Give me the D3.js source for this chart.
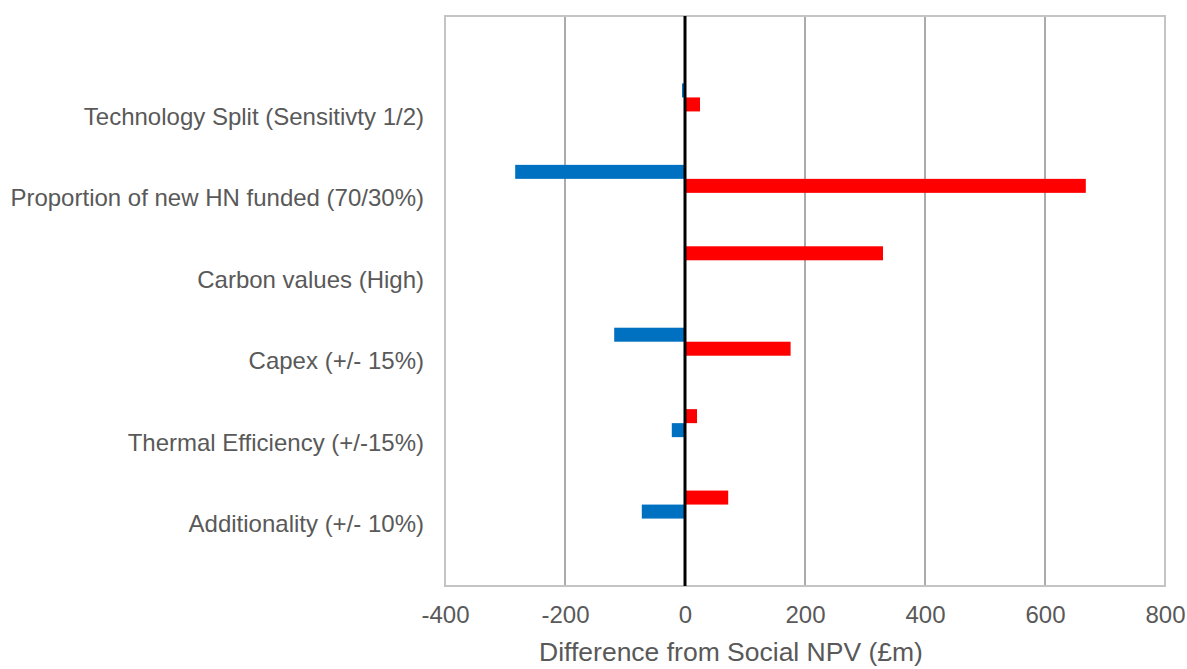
<!DOCTYPE html>
<html>
<head>
<meta charset="utf-8">
<script src="https://cdn.jsdelivr.net/npm/d3@7"></script>
<style>
  html, body { margin: 0; padding: 0; background: #fff; }
  svg { display: block; font-family: "Liberation Sans", Arial, sans-serif; }
</style>
</head>
<body>
<svg id="chart" width="1187" height="669"></svg>
<script>
// Sensitivity categories, top to bottom
const categories = [
  "Technology Split (Sensitivty 1/2)",
  "Proportion of new HN funded (70/30%)",
  "Carbon values (High)",
  "Capex (+/- 15%)",
  "Thermal Efficiency (+/-15%)",
  "Additionality (+/- 10%)"
];
// Change in Social NPV (£m) for each sensitivity: first and second case
const firstCase  = [-5, -283, 330, -118, 20, 72];
const secondCase = [25, 668, 0, 176, -22, -72];
const xTicks = [-400, -200, 0, 200, 400, 600, 800];
const axisTitle = "Difference from Social NPV (£m)";

const svg = d3.select("#chart");
const plot = { left: 445, right: 1165, top: 16, bottom: 586 };
const textColor = "#595959";

const x = d3.scaleLinear().domain([-400, 800]).range([plot.left, plot.right]);
const band = (plot.bottom - plot.top) / (categories.length + 1);
const y = d3.scalePoint().domain(categories)
  .range([plot.top + band, plot.bottom - band]);
const barH = 14;
const colorFor = v => v < 0 ? "#0070C0" : "#FF0000";

// Vertical gridlines
svg.append("g").selectAll("line")
  .data(xTicks.filter(t => t !== -400 && t !== 800 && t !== 0))
  .join("line")
  .attr("x1", d => x(d)).attr("x2", d => x(d))
  .attr("y1", plot.top).attr("y2", plot.bottom)
  .attr("stroke", "#ABABAB").attr("stroke-width", 2);

// Plot frame
svg.append("rect")
  .attr("x", plot.left).attr("y", plot.top)
  .attr("width", plot.right - plot.left).attr("height", plot.bottom - plot.top)
  .attr("fill", "none").attr("stroke", "#C4C4C4").attr("stroke-width", 2);

// Bars: first case sits above the category line, second case below
const rows = categories.map((c, i) => ({ c, a: firstCase[i], b: secondCase[i] }));
const bars = svg.append("g");
bars.selectAll("rect.first").data(rows).join("rect")
  .attr("class", "first")
  .attr("x", d => x(Math.min(0, d.a)))
  .attr("width", d => Math.abs(x(d.a) - x(0)))
  .attr("y", d => y(d.c) - barH)
  .attr("height", barH)
  .attr("fill", d => colorFor(d.a));
bars.selectAll("rect.second").data(rows).join("rect")
  .attr("class", "second")
  .attr("x", d => x(Math.min(0, d.b)))
  .attr("width", d => Math.abs(x(d.b) - x(0)))
  .attr("y", d => y(d.c))
  .attr("height", barH)
  .attr("fill", d => colorFor(d.b));

// Zero line
svg.append("line")
  .attr("x1", x(0)).attr("x2", x(0))
  .attr("y1", plot.top).attr("y2", plot.bottom)
  .attr("stroke", "#000").attr("stroke-width", 3);

// Category labels
svg.append("g").selectAll("text").data(categories).join("text")
  .attr("x", 424)
  .attr("y", d => y(d) + 19)
  .attr("dy", "0.35em")
  .attr("text-anchor", "end")
  .attr("font-size", 24)
  .attr("fill", textColor)
  .text(d => d);

// X axis tick labels (plain hyphen for negatives)
const xAxis = d3.axisBottom(x).tickValues(xTicks).tickSize(0).tickPadding(0)
  .tickFormat(d => String(d));
const gx = svg.append("g")
  .attr("transform", `translate(0,${plot.bottom})`)
  .call(xAxis);
gx.select(".domain").remove();
gx.selectAll("text")
  .attr("y", 28.5)
  .attr("dy", "0.35em")
  .attr("font-size", 24)
  .attr("font-family", "Liberation Sans, Arial, sans-serif")
  .attr("fill", textColor);

// Axis title
svg.append("text")
  .attr("x", 731).attr("y", 661)
  .attr("text-anchor", "middle")
  .attr("font-size", 26.5)
  .attr("fill", textColor)
  .text(axisTitle);
</script>
</body>
</html>
